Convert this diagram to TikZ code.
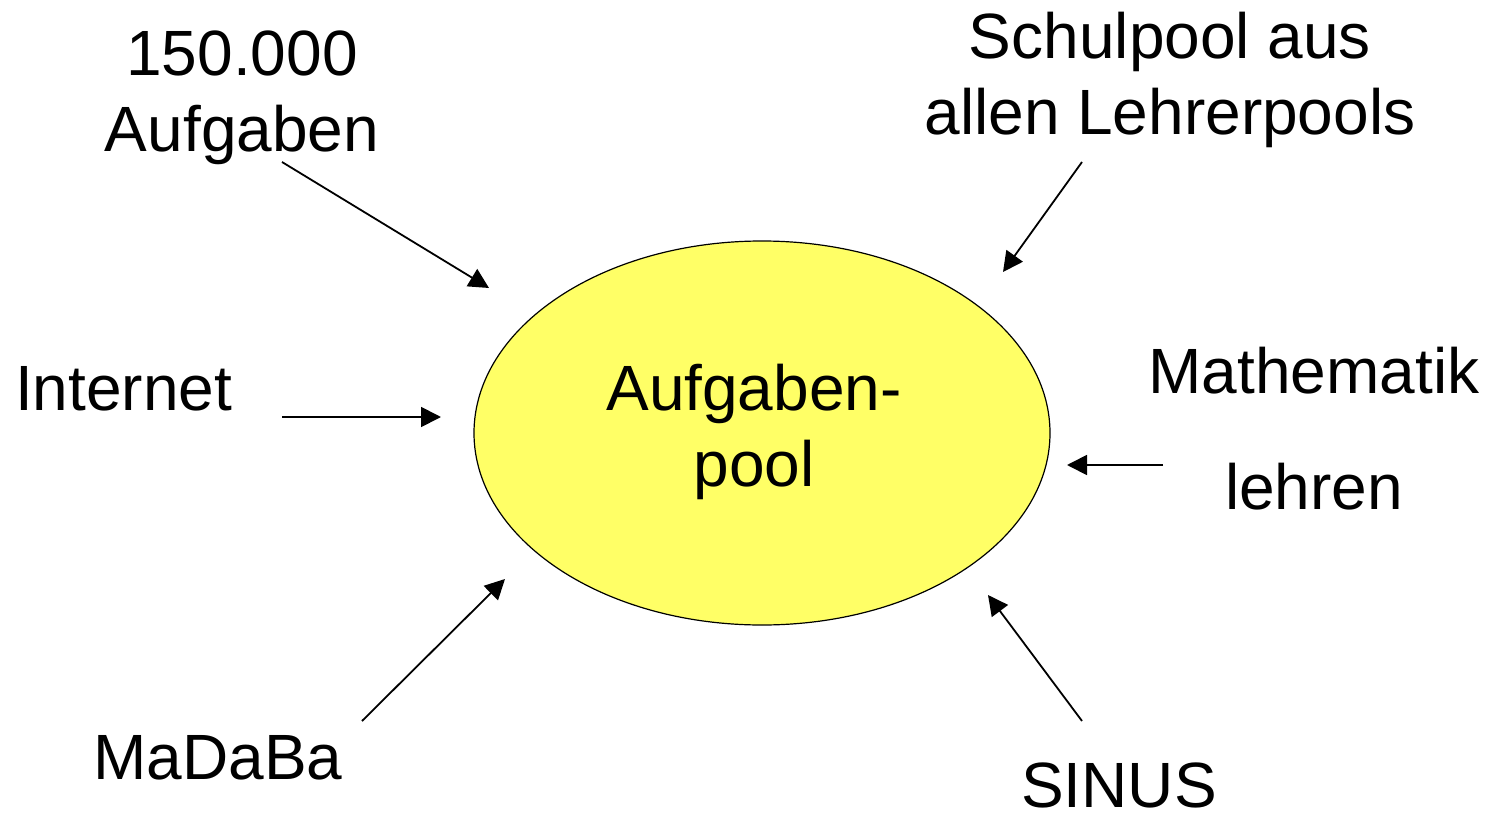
\documentclass[tikz,border=0pt]{standalone}
\usepackage{fontspec}
\setmainfont{Liberation Sans}
\usetikzlibrary{arrows.meta,shapes.geometric}
\definecolor{poolyellow}{HTML}{FFFF66}
\begin{document}
\begin{tikzpicture}[x=1pt,y=-1pt,
  lbl/.style={inner sep=0pt,anchor=base,align=center,font=\fontsize{64}{76}\selectfont},
  feed/.style={line width=1.8pt,-{Triangle[length=20pt,width=20pt]}}]
\useasboundingbox (0,0) rectangle (1494,816);
\node[draw,line width=1.2pt,fill=poolyellow,ellipse,minimum width=576pt,minimum height=384pt,inner sep=0pt] (pool) at (762,433) {};
\node[lbl] (pooltxt) at (754,486) {Aufgaben-\\pool};
\node[lbl] (aufg) at (242,151) {150.000\\Aufgaben};
\node[lbl] (schul) at (1170,134) {Schulpool aus\\allen Lehrerpools};
\node[lbl,anchor=base west] (inet) at (15,410) {Internet};
\node[lbl] (mathe) at (1314,509) {Mathematik\\[40pt]lehren};
\node[lbl] (madaba) at (218,779) {MaDaBa};
\node[lbl] (sinus) at (1119,807) {SINUS};
\coordinate (a1s) at (282,162); \coordinate (a1e) at (489,288);
\coordinate (a2s) at (1082,162); \coordinate (a2e) at (1003,272);
\coordinate (a3s) at (282,417); \coordinate (a3e) at (441,417);
\coordinate (a4s) at (1163,465); \coordinate (a4e) at (1067,465);
\coordinate (a5s) at (362,721); \coordinate (a5e) at (505,579);
\coordinate (a6s) at (1082,721); \coordinate (a6e) at (988,595);
\draw[feed] (a1s) -- (a1e);
\draw[feed] (a2s) -- (a2e);
\draw[feed] (a3s) -- (a3e);
\draw[feed] (a4s) -- (a4e);
\draw[feed] (a5s) -- (a5e);
\draw[feed] (a6s) -- (a6e);
\end{tikzpicture}
\end{document}
